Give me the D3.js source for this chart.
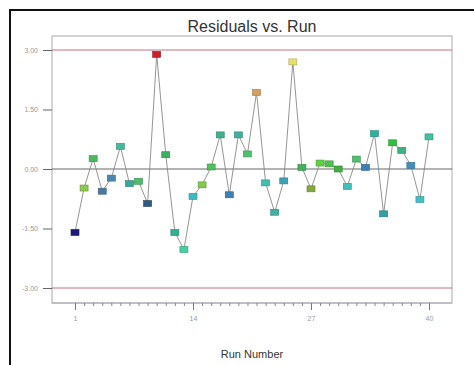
<!DOCTYPE html>
<html><head><meta charset="utf-8">
<script src="https://cdn.jsdelivr.net/npm/d3@7"></script>
<style>
html,body{margin:0;padding:0;background:#fff;}
svg{display:block;}
text{font-family:Arial,"Liberation Sans",sans-serif;}
</style></head>
<body>
<svg id="chart" width="474" height="365"></svg>
<script>
const title = "Residuals vs. Run";
const xLabel = "Run Number";
const runs = d3.range(1, 41);
const residuals = [-1.60,-0.48,0.26,-0.56,-0.23,0.57,-0.37,-0.31,-0.87,2.89,
                   0.36,-1.60,-2.03,-0.69,-0.40,0.05,0.86,-0.65,0.86,0.38,
                   1.93,-0.35,-1.09,-0.30,2.70,0.04,-0.50,0.15,0.13,0.00,
                   -0.44,0.25,0.04,0.89,-1.13,0.66,0.47,0.09,-0.77,0.81];
const pointColors = ["#1c1c78","#8cc850","#4cb860","#4a7aa4","#4a88b0","#48b89a","#3aa898","#4cbe6a","#2c5a82","#cc1f2a",
                     "#40b060","#30b090","#44d0a4","#40b8c0","#84c850","#50c060","#40b090","#4080b0","#40b0a0","#50c070",
                     "#d4a060","#40c0b0","#40b0a0","#40a0b4","#e6e070","#40b060","#84a840","#60d040","#50c050","#40b040",
                     "#40c0b8","#50c070","#3a80b8","#30b0a0","#30a0a4","#30c040","#40b080","#4090b8","#40c0c4","#40c0a0"];
const yTicks = [3, 1.5, 0, -1.5, -3];
const yTickLabels = ["3.00","1.50","0.00","-1.50","-3.00"];
const xTicks = [1, 14, 27, 40];
const xTickLabels = ["1","14","27","40"];
const limits = [3, -3];

const svg = d3.select("#chart");
const frame = {left:52, top:36, right:452, bottom:303};

const x = d3.scaleLinear().domain([1, 40]).range([75, 429]);
const y = d3.scaleLinear().domain([-3, 3]).range([288, 50]);

// outer border
svg.append("rect").attr("x",10).attr("y",10).attr("width",480).attr("height",380)
  .attr("fill","none").attr("stroke","#111").attr("stroke-width",2);

// title
svg.append("text").attr("x",(frame.left+frame.right)/2).attr("y",32)
  .attr("text-anchor","middle").attr("font-size",16).attr("fill","#333").text(title);

// plot frame
svg.append("rect").attr("x",frame.left).attr("y",frame.top)
  .attr("width",frame.right-frame.left).attr("height",frame.bottom-frame.top)
  .attr("fill","#fff").attr("stroke","#aaa").attr("stroke-width",1);

// limit lines
svg.selectAll(".lim").data(limits).enter().append("line")
  .attr("x1",frame.left).attr("x2",frame.right)
  .attr("y1",d=>y(d)).attr("y2",d=>y(d))
  .attr("stroke","#c87080").attr("stroke-width",1);

// zero line
svg.append("line").attr("x1",frame.left).attr("x2",frame.right)
  .attr("y1",y(0)).attr("y2",y(0)).attr("stroke","#666").attr("stroke-width",1);

// y axis
const yAxis = d3.axisLeft(y).tickValues(yTicks).tickSize(9).tickPadding(5)
  .tickFormat((d,i)=>yTickLabels[i]);
const gy = svg.append("g").attr("transform",`translate(${frame.left},0)`).call(yAxis);
gy.select(".domain").remove();
gy.selectAll(".tick line").attr("stroke","#666");
gy.selectAll(".tick text").attr("font-size",7).attr("fill","#999")
  .style("font-family","Arial,'Liberation Sans',sans-serif");

// x axis minor ticks
const xMinor = d3.axisBottom(x).tickValues(runs).tickSize(3).tickFormat("");
const gxm = svg.append("g").attr("transform",`translate(0,${frame.bottom})`).call(xMinor);
gxm.select(".domain").attr("stroke","#aaa").attr("d",`M${frame.left},0H${frame.right}`);
gxm.selectAll(".tick line").attr("stroke","#888");

// x axis major ticks
const xAxis = d3.axisBottom(x).tickValues(xTicks).tickSize(7).tickPadding(6)
  .tickFormat((d,i)=>xTickLabels[i]);
const gx = svg.append("g").attr("transform",`translate(0,${frame.bottom})`).call(xAxis);
gx.select(".domain").remove();
gx.selectAll(".tick line").attr("stroke","#777");
gx.selectAll(".tick text").attr("font-size",7).attr("fill","#999")
  .style("font-family","Arial,'Liberation Sans',sans-serif");

// x label
svg.append("text").attr("x",(frame.left+frame.right)/2).attr("y",358)
  .attr("text-anchor","middle").attr("font-size",11).attr("fill","#333").text(xLabel);

// connecting line
const line = d3.line().x((d,i)=>x(runs[i])).y(d=>y(d));
svg.append("path").datum(residuals).attr("d",line)
  .attr("fill","none").attr("stroke","#888").attr("stroke-width",0.9);

// markers
svg.selectAll(".pt").data(residuals).enter().append("rect")
  .attr("x",(d,i)=>x(runs[i])-4).attr("y",d=>y(d)-3)
  .attr("width",8).attr("height",6)
  .attr("fill",(d,i)=>pointColors[i])
  .attr("stroke",(d,i)=>d3.color(pointColors[i]).darker(0.8))
  .attr("stroke-width",0.6);
</script>
</body></html>
